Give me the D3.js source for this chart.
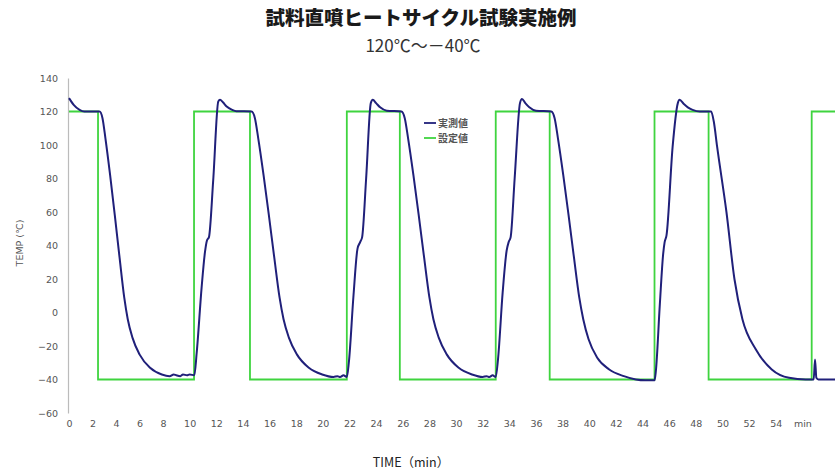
<!DOCTYPE html>
<html>
<head>
<meta charset="utf-8">
<script src="https://cdn.jsdelivr.net/npm/d3@7/dist/d3.min.js"></script>
<style>
  html, body { margin: 0; padding: 0; background: #fff; }
  svg { display: block; }
</style>
</head>
<body>
<svg id="chart" width="835" height="472"></svg>
<script>
// ---- data ----
const titleText = "試料直噴ヒートサイクル試験実施例";
const subtitleText = "120℃～－40℃";
const seriesNames = ["実測値", "設定値"];

const yTickValues = [-60, -40, -20, 0, 20, 40, 60, 80, 100, 120, 140];
const xTickValues = [0,2,4,6,8,10,12,14,16,18,20,22,24,26,28,30,32,34,36,38,40,42,44,46,48,50,52,54,56];
const xTickLabels = ["0","2","4","6","8","10","12","14","16","18","20","22","24","26","28","30","32","34","36","38","40","42","44","46","48","50","52","54","min"];

// set value (step after)
const setTime  = [0, 2.47, 10.33, 14.53, 21.8, 25.78, 32.98, 37.03, 44.9, 48.96, 56.7, 58.6];
const setValue = [120, -40, 120, -40, 120, -40, 120, -40, 120, -40, 120, 120];

// measured value
const measTime = [
  0, 0.4, 0.9, 1.3, 2.6, 2.85, 3.1, 3.5, 3.9, 4.3, 4.7, 5.0, 5.4, 6.0, 6.9, 7.9, 8.5, 8.8, 9.0, 9.3, 9.5, 9.8, 10.0, 10.35,
  10.53, 10.9, 11.15, 11.3, 11.45, 11.77, 12.15, 12.28, 12.5, 12.78, 13.2, 13.5, 14.65,
  14.9, 15.15, 15.55, 15.95, 16.35, 16.75, 17.05, 17.45, 18.05, 18.95, 19.95, 20.8, 21.1, 21.3, 21.55, 21.8,
  21.95, 22.3, 22.6, 22.8, 22.95, 23.25, 23.6, 23.75, 24.0, 24.3, 24.8, 25.9,
  26.15, 26.4, 26.8, 27.2, 27.6, 28.0, 28.3, 28.7, 29.3, 30.2, 31.2, 32.0, 32.3, 32.5, 32.75, 32.98,
  33.15, 33.5, 33.8, 33.95, 34.1, 34.4, 34.8, 34.95, 35.2, 35.5, 36.0, 37.15,
  37.4, 37.65, 38.05, 38.45, 38.85, 39.25, 39.55, 39.95, 40.6, 41.5, 42.6, 43.5, 44.2, 44.9,
  45.0, 45.3, 45.55, 45.66, 45.8, 46.26, 46.65, 46.78, 47.1, 47.4, 47.76, 48.3, 49.15,
  49.35, 49.6, 50.3, 50.9, 51.5, 52.5, 53.7, 55.0, 56.25, 56.85, 56.95, 57.05, 57.2, 58.6
];
const measValue = [
  128, 124, 121, 120, 120, 116, 104, 82, 58, 33, 9, -4, -15, -25, -33, -37, -38, -37, -37.5, -38, -37, -37.5, -37, -37.5,
  -24, 15, 36, 43, 45, 79, 126, 127, 125.5, 123, 121, 120.2, 120,
  116, 104, 82, 58, 33, 9, -4, -15, -25, -33, -37, -38.5, -38, -38.5, -37.5, -38.5,
  -30, 10, 38, 42, 45, 80, 125, 127, 125, 122.5, 120.5, 120,
  116, 104, 82, 58, 33, 9, -4, -15, -25, -33, -37, -38.5, -38, -38.5, -37.5, -38.5,
  -28, 12, 37, 42, 45, 80, 125, 127.5, 125, 122.5, 120.5, 120,
  116, 104, 82, 58, 33, 9, -4, -16, -27, -34, -38, -40, -40.5, -40.5,
  -35, 5, 35, 42, 46, 99, 125, 127, 124.5, 122.5, 121, 120, 120,
  114, 99, 60, 20, -4, -22, -34, -39, -40, -40, -28, -39, -40, -40
];

// ---- layout ----
const svg = d3.select("#chart");
const W = 835, H = 472;

const x = d3.scaleLinear().domain([0, 8, 58.6]).range([69, 163, 837]);
const y = d3.scaleLinear().domain([-60, 140]).range([413, 78]);

const tickFont = "'DejaVu Sans', Verdana, sans-serif";
const jpFont = "'Noto Sans CJK JP', 'Noto Sans', sans-serif";

// title
svg.append("text")
  .attr("x", 421).attr("y", 25)
  .attr("text-anchor", "middle")
  .attr("font-family", jpFont)
  .attr("font-weight", "900")
  .attr("font-size", 19.5)
  .attr("fill", "#1a1a1a")
  .text(titleText);

svg.append("text")
  .attr("x", 423).attr("y", 52)
  .attr("text-anchor", "middle")
  .attr("font-family", jpFont)
  .attr("font-size", 17)
  .attr("fill", "#333")
  .text(subtitleText);

// y axis
const yAxis = d3.axisLeft(y).tickValues(yTickValues).tickSize(0).tickPadding(10);
const gy = svg.append("g").attr("transform", "translate(68,0)").call(yAxis);
gy.select(".domain").attr("stroke", "#bbb").attr("stroke-width", 1.2);
gy.selectAll("text").attr("font-family", tickFont).attr("font-size", 9.5).attr("fill", "#555");

// x axis (labels only)
const xAxis = d3.axisBottom(x).tickValues(xTickValues).tickSize(0).tickPadding(7)
  .tickFormat((d, i) => xTickLabels[i]);
const gx = svg.append("g").attr("transform", "translate(0,413)").call(xAxis);
gx.select(".domain").remove();
gx.selectAll("text").attr("font-family", tickFont).attr("font-size", 9.5).attr("fill", "#555");

// axis titles
svg.append("text")
  .attr("transform", "translate(23,243) rotate(-90)")
  .attr("text-anchor", "middle")
  .attr("font-family", tickFont)
  .attr("font-size", 9.5)
  .attr("fill", "#555")
  .text("TEMP (℃)");

svg.append("text")
  .attr("x", 411).attr("y", 467)
  .attr("text-anchor", "middle")
  .attr("font-family", jpFont)
  .attr("font-size", 12.5)
  .attr("fill", "#222")
  .text("TIME（min）");

// clip
svg.append("clipPath").attr("id", "plot")
  .append("rect").attr("x", 68).attr("y", 60).attr("width", W - 68).attr("height", 360);

// lines
const setData = setTime.map((t, i) => [t, setValue[i]]);
const measData = measTime.map((t, i) => [t, measValue[i]]);

const stepLine = d3.line().x(d => x(d[0])).y(d => y(d[1])).curve(d3.curveStepAfter);
const smoothLine = d3.line().x(d => x(d[0])).y(d => y(d[1])).curve(d3.curveMonotoneX);

const plot = svg.append("g").attr("clip-path", "url(#plot)");

plot.append("path")
  .datum(setData)
  .attr("d", stepLine)
  .attr("fill", "none")
  .attr("stroke", "#3fd43f")
  .attr("stroke-width", 1.8);

plot.append("path")
  .datum(measData)
  .attr("d", smoothLine)
  .attr("fill", "none")
  .attr("stroke", "#20207a")
  .attr("stroke-width", 2)
  .attr("stroke-linejoin", "round");

// legend
const legendColors = ["#20207a", "#3fd43f"];
const lg = svg.append("g");
seriesNames.forEach((name, i) => {
  const ly = 123 + i * 15;
  lg.append("line")
    .attr("x1", 424).attr("x2", 436)
    .attr("y1", ly).attr("y2", ly)
    .attr("stroke", legendColors[i]).attr("stroke-width", 1.8);
  lg.append("text")
    .attr("x", 438).attr("y", ly + 3.5)
    .attr("font-family", jpFont)
    .attr("font-size", 10)
    .attr("font-weight", "bold")
    .attr("fill", "#555")
    .text(name);
});
</script>
</body>
</html>
